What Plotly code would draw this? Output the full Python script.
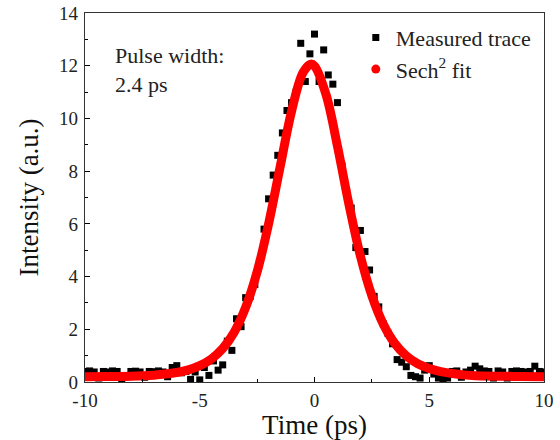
import plotly.graph_objects as go

# Measured autocorrelation trace (time in ps, intensity in a.u.)
t_meas = [round(-10 + 0.2 * i, 1) for i in range(101)]
i_meas = [
    0.40, 0.42, 0.38, 0.15, 0.40, 0.38, 0.42, 0.40, 0.12, 0.20,
    0.40, 0.41, 0.38, 0.18, 0.40, 0.39, 0.42, 0.38, 0.20, 0.55,
    0.62, 0.35, 0.40, 0.10, 0.38, 0.08, 0.55, 0.25, 0.80, 0.45,
    0.65, 1.55, 1.20, 2.40, 2.10, 3.20, 3.25, 3.70, 4.55, 5.80,
    6.95, 7.85, 8.60, 9.45, 10.30, 10.60, 11.00, 12.85, 11.40, 12.45,
    13.20, 11.40, 12.60, 11.65, 11.30, 10.60, 8.20, 7.20, 6.60, 5.10,
    5.75, 4.95, 4.25, 3.25, 2.85, 2.20, 1.85, 1.45, 0.85, 0.75,
    0.58, 0.25, 0.20, 0.15, 0.45, 0.62, 0.30, 0.15, 0.12, 0.15,
    0.40, 0.42, 0.18, 0.38, 0.45, 0.60, 0.50, 0.42, 0.40, 0.15,
    0.42, 0.38, 0.15, 0.40, 0.42, 0.40, 0.38, 0.40, 0.60, 0.40,
    0.38,
]

# Sech^2 fit curve
t_fit = [-10, -9, -8, -7, -6.5, -6, -5.5, -5, -4.5, -4, -3.5, -3, -2.5, -2,
         -1.5, -1, -0.5, -0.16, 0, 0.5, 1, 1.5, 2, 2.5, 3, 3.5, 4, 4.5, 5,
         5.5, 6, 6.5, 7, 8, 9, 10]
i_fit = [0.20, 0.21, 0.22, 0.26, 0.30, 0.36, 0.46, 0.62, 0.87, 1.27, 1.89,
         2.83, 4.18, 6.00, 8.15, 10.27, 11.74, 12.06, 11.99, 10.91, 8.95,
         6.74, 4.78, 3.27, 2.19, 1.46, 0.99, 0.69, 0.51, 0.39, 0.32, 0.27,
         0.24, 0.22, 0.21, 0.20]

x_ticks = [-10, -5, 0, 5, 10]
x_labels = ["-10", "-5", "0", "5", "10"]
y_ticks = [0, 2, 4, 6, 8, 10, 12, 14]

FONT = "Liberation Serif, Times New Roman, serif"

fig = go.Figure()
fig.add_trace(go.Scatter(
    x=t_meas, y=i_meas, mode="markers", name="Measured trace",
    marker=dict(symbol="square", size=7, color="black", line=dict(width=0)),
))
fig.add_trace(go.Scatter(
    x=t_fit, y=i_fit, mode="lines", line=dict(color="#ff0000", width=9, shape="spline"),
    showlegend=False, hoverinfo="skip",
))
fig.add_trace(go.Scatter(
    x=[None], y=[None], mode="markers", name="Sech<sup>2</sup> fit",
    marker=dict(symbol="circle", size=9, color="#ff0000"),
))

fig.add_annotation(
    x=0.061, y=0.925, xref="paper", yref="paper", xanchor="left", yanchor="top",
    text="Pulse width:<br>2.4 ps", showarrow=False, align="left",
    font=dict(family=FONT, size=22, color="#222"),
)

fig.update_xaxes(
    range=[-10, 10], tickvals=x_ticks, ticktext=x_labels, ticks="inside", ticklen=5, tickwidth=1,
    tickcolor="black", showline=True, linecolor="#333", linewidth=1.2, mirror=True,
    showgrid=False, zeroline=False, automargin=False, ticklabelstandoff=1,
    minor=dict(ticks="inside", dtick=2.5, ticklen=3, tickcolor="black"),
    title=dict(text="Time (ps)", font=dict(family=FONT, size=27, color="#111"), standoff=3),
    tickfont=dict(family=FONT, size=19, color="#222"),
)
fig.update_yaxes(
    range=[0, 14], tickvals=y_ticks, ticks="inside", ticklen=5, tickwidth=1,
    tickcolor="black", showline=True, linecolor="#333", linewidth=1.2, mirror=True,
    showgrid=False, zeroline=False, automargin=False, ticklabelstandoff=2,
    minor=dict(ticks="inside", dtick=1, ticklen=3, tickcolor="black"),
    title=dict(text="Intensity (a.u.)", font=dict(family=FONT, size=27, color="#111"), standoff=12),
    tickfont=dict(family=FONT, size=19, color="#222"),
)

fig.update_layout(
    width=560, height=440,
    margin=dict(l=85, r=16, t=13, b=58),
    paper_bgcolor="white", plot_bgcolor="white",
    showlegend=True,
    legend=dict(x=0.59, y=0.99, xanchor="left", yanchor="top",
                font=dict(family=FONT, size=22, color="#222"),
                bgcolor="rgba(0,0,0,0)", tracegroupgap=0, itemwidth=30),
)

fig.write_html("out.html", config={"displayModeBar": False},
               post_script="document.body.style.margin='0px';")
